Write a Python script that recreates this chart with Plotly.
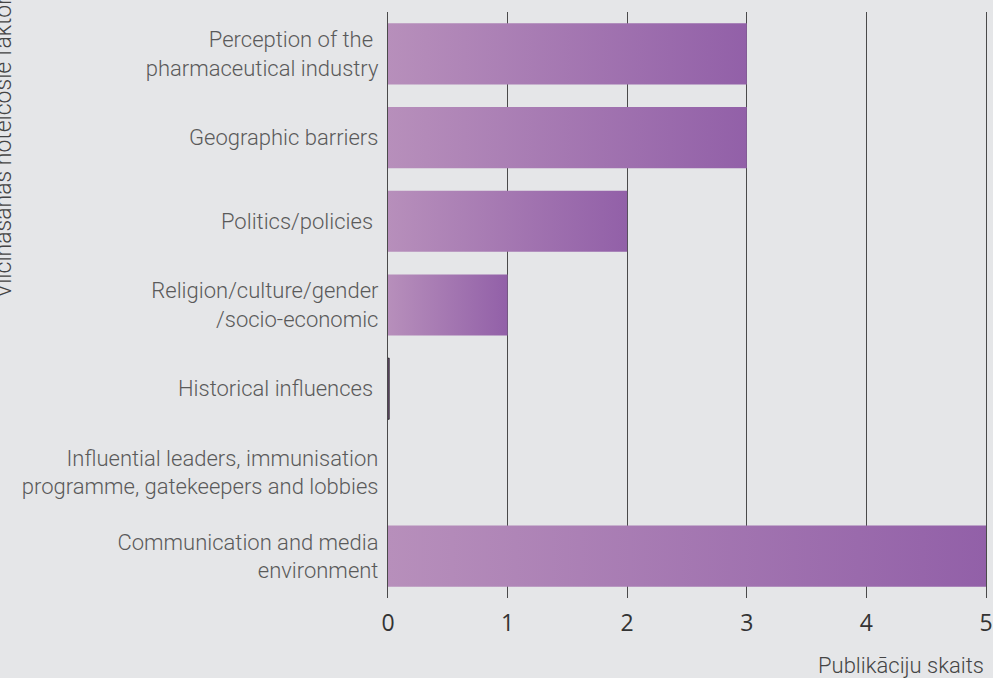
import plotly.graph_objects as go

categories = [
    "Communication and media<br>environment",
    "Influential leaders, immunisation<br>programme, gatekeepers and lobbies",
    "Historical influences ",
    "Religion/culture/gender<br>/socio-economic",
    "Politics/policies ",
    "Geographic barriers",
    "Perception of the <br>pharmaceutical industry",
]
values = [5, 0, 0.01, 1, 2, 3, 3]
x_ticks = [0, 1, 2, 3, 4, 5]
x_title = "Publikāciju skaits"
y_title = "Vilcināšanās noteicošie faktori"

color_light = "#b78fbb"
color_dark = "#9260a8"
bg = "#e5e6e8"
grid = "#4a4a4a"
half = 0.365

fig = go.Figure()
for i, v in enumerate(values):
    if v <= 0:
        continue
    fig.add_trace(go.Scatter(
        x=[0, v, v, 0, 0],
        y=[i - half, i - half, i + half, i + half, i - half],
        mode="lines",
        line=dict(width=0, color=color_dark) if v > 0.05 else dict(width=0.8, color="#111"),
        fill="toself",
        fillgradient=dict(type="horizontal", colorscale=[[0, color_light], [1, color_dark]],
                          start=0, stop=v),
        hoverinfo="skip",
        showlegend=False,
    ))

fig.update_layout(
    width=993, height=678,
    margin=dict(l=388, r=7, t=12, b=80),
    paper_bgcolor=bg, plot_bgcolor=bg,
    showlegend=False,
    xaxis=dict(
        range=[0, 5], tickvals=x_ticks, showgrid=True, gridcolor=grid, gridwidth=1.3,
        zeroline=False, showline=False, automargin=False,
        tickfont=dict(family="Open Sans", size=23, color="#333333"),
        ticks="", ticklen=0, ticklabelstandoff=9,
    ),
    yaxis=dict(
        range=[-0.5, len(categories) - 0.5], tickvals=list(range(len(categories))),
        ticktext=categories, showgrid=False, zeroline=False, automargin=False,
        showline=True, mirror=True, linecolor=grid, linewidth=1.3,
        tickfont=dict(family="Roboto", size=22, color="#5a5a5a", weight=300),
        ticks="", ticklabelstandoff=4,
    ),
    font=dict(family="Roboto"),
    annotations=[
        dict(text=x_title, xref="paper", yref="paper", x=1, y=(598 - 665) / 586,
             xanchor="right", yanchor="middle", showarrow=False,
             font=dict(family="Roboto", size=22, color="#444444", weight=300)),
        dict(text=y_title, xref="paper", yref="paper", x=(3 - 388) / 598, y=(598 - 300) / 586,
             xanchor="center", yanchor="bottom", textangle=-90, showarrow=False,
             font=dict(family="Roboto", size=23, color="#444444", weight=300)),
    ],
)

fig.write_html("out.html", config={"displayModeBar": False},
               post_script="document.body.style.margin='0';")
